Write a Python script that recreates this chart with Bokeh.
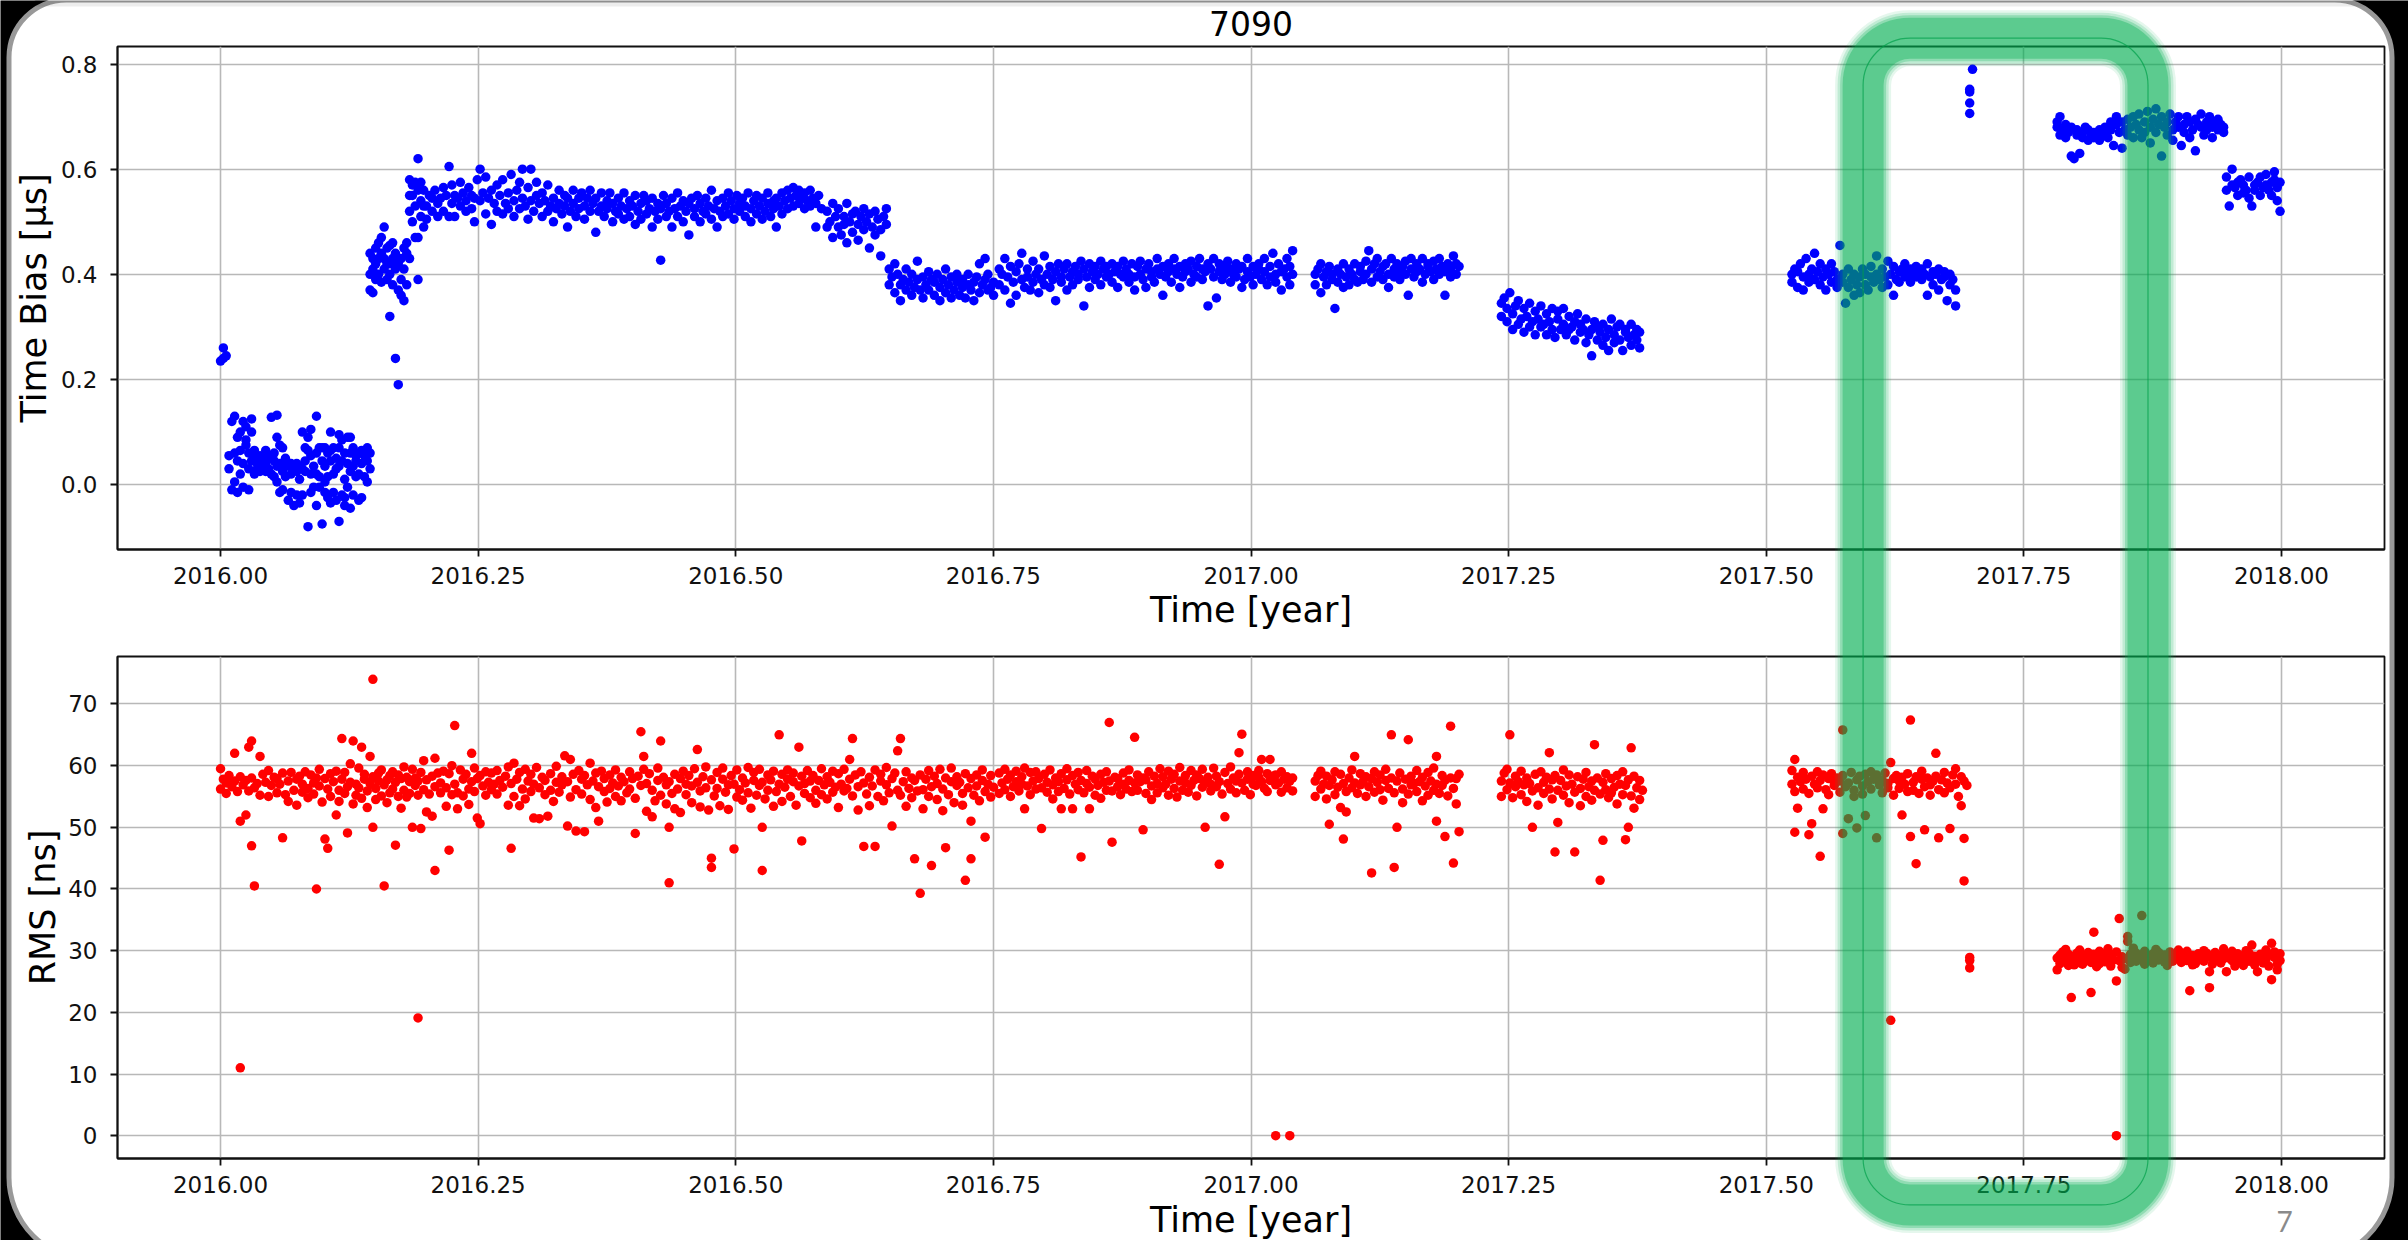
from bokeh.plotting import figure
from bokeh.layouts import column
from bokeh.models import BoxAnnotation, Label, Range1d, FixedTicker, PrintfTickFormatter
from bokeh.embed import file_html
from bokeh.resources import INLINE

# ---------------- texts / ticks ----------------
TITLE = "7090"
X_LABEL = "Time [year]"
BIAS_LABEL = "Time Bias [μs]"
RMS_LABEL = "RMS [ns]"
PAGE_NO = "7"
X_TICKS = [2016.0, 2016.25, 2016.5, 2016.75, 2017.0, 2017.25, 2017.5, 2017.75, 2018.0]
BIAS_TICKS = [0.0, 0.2, 0.4, 0.6, 0.8]
RMS_TICKS = [0, 10, 20, 30, 40, 50, 60, 70]
YEAR0 = 2016.0

# ---------------- data: (day since 2016.0, value, value, ...) ----------------
bias_start = [(0,.235),(1,.26,.24),(2,.245)]
bias_low = [(3,.055,.03),(4,-.01,.12),(5,.13,.005,.06),(6,.045,-.015,.09),(7,.1,.065,.02),(8,.12,.04,-.005),(9,.075,.085,.11),(10,.06,.03,-.01),(11,.1,.045,.125),(12,.05,.065,.02),(13,.04,.03),(14,.055,.045,.025),(15,.05,.035),(16,.065,.04,.025),(17,.05,.03),(18,.128,.055,.02),(19,.045,.06,.015),(20,.132,.035,.005,.09),(21,.075,.04,-.015),(22,.07,.025,-.01),(23,.04,.05,.015),(24,-.03,.035),(25,.02,-.015,.04),(26,.03,-.04),(27,.025,.04,-.02),(28,.035,.01,-.035),(29,.1,.03,-.02),(30,.025,.045,.07),(31,.09,.065,-.08),(32,.055,-.015,.02,.105),(33,.035,-.005),(34,.13,.06,.02,-.04),(35,.07,.015,-.005),(36,.045,.07,-.075),(37,.035,.07,-.015,.005),(38,.06,.015,-.025),(39,.065,-.035,.045,.1),(40,.02,-.015,.07),(41,.03,.05,-.03),(42,.07,-.07,.095,.035),(43,.085,.045,-.02),(44,.06,-.025,.01,-.04),(45,.09,.04,-.005),(46,.06,.025,-.045,.09),(47,.035,-.02,.07),(48,.045,.015,.055),(49,.02,-.03,.06),(50,.065,.04,-.025),(51,.015,.055),(52,.07,.045,.005),(53,.06,.03)]
bias_rise = [(53,.44,.37,.40),(54,.43,.365,.41),(55,.45,.39,.42),(56,.43,.46,.40),(57,.385,.44,.47),(58,.41,.49,.43),(59,.39,.45,.42),(60,.32,.42,.40,.455),(61,.46,.38,.43),(62,.24,.41,.44),(63,.19,.37,.42),(64,.43,.39,.36),(65,.35,.41,.45),(66,.38,.44,.46),(67,.55,.58,.52,.43),(68,.57,.55,.5),(69,.47,.53,.575),(70,.62,.56,.47,.39),(71,.54,.51,.575),(72,.49,.56,.53)]
bias_plateau = [(73,.53,.505),(74,.55),(75,.52,.545),(76,.56),(77,.535,.51),(78,.545),(79,.52,.565),(80,.55),(81,.605,.51),(82,.57,.535),(83,.51,.55),(84,.545),(85,.53,.575),(86,.555),(87,.54,.52),(88,.565),(89,.525,.55),(90,.5,.545),(91,.58),(92,.6,.54),(93,.555),(94,.515,.585),(95,.545),(96,.495,.56),(97,.535),(98,.57,.52),(99,.55),(100,.58,.515),(101,.535),(102,.555,.525),(103,.59),(104,.54,.51),(105,.56),(106,.525,.575),(107,.6,.545),(108,.53),(109,.565,.505),(110,.6,.54),(111,.52),(112,.55,.575),(113,.535),(114,.51,.555),(115,.54),(116,.57,.52),(117,.53),(118,.545,.5),(119,.525),(120,.56,.535),(121,.515),(122,.55,.53),(123,.49,.545),(124,.52),(125,.56,.535),(126,.51),(127,.545,.525),(128,.555),(129,.53,.505),(130,.545),(131,.52,.56),(132,.535),(133,.48,.545),(134,.52),(135,.555,.53),(136,.51),(137,.54,.525),(138,.555),(139,.5,.535),(140,.52),(141,.545,.515),(142,.53),(143,.555,.505),(144,.525),(145,.54,.51),(146,.53),(147,.495,.55),(148,.52),(149,.535,.505),(150,.55),(151,.515,.54),(152,.525),(153,.49,.545),(154,.52),(155,.535,.505),(156,.427,.525),(157,.55),(158,.51,.535),(159,.52),(160,.545,.49),(161,.525),(162,.555,.51),(163,.53),(164,.5,.54),(165,.52),(166,.535,.475),(167,.545),(168,.51,.525),(169,.55),(170,.5,.535),(171,.52),(172,.545,.515),(173,.53),(174,.56,.505),(175,.525),(176,.49,.54),(177,.52),(178,.545,.51),(179,.53),(180,.555,.515),(181,.54),(182,.505,.525),(183,.55),(184,.52,.535),(185,.545),(186,.51,.53),(187,.555),(188,.525,.5),(189,.54),(190,.515,.55),(191,.53),(192,.545,.505),(193,.52),(194,.535,.555),(195,.51),(196,.54,.525),(197,.49,.545),(198,.53),(199,.555,.515),(200,.54),(201,.56,.525),(202,.545),(203,.565,.53),(204,.55),(205,.535,.56),(206,.545),(207,.555,.525),(208,.54),(209,.56,.53),(210,.545),(211,.49,.535),(212,.55),(213,.525)]
bias_step1 = [(215,.52,.49),(216,.5),(217,.535,.47),(218,.51),(219,.49,.525),(220,.475),(221,.51,.495),(222,.535,.46),(223,.5),(224,.48,.515),(225,.52),(226,.495,.465),(227,.51),(228,.525,.485),(229,.5),(230,.45,.515),(231,.49),(232,.52,.475),(233,.505),(234,.485,.435),(235,.51),(236,.495,.525)]
bias_step2 = [(237,.41,.38),(238,.395),(239,.365,.42),(240,.4),(241,.38,.35),(242,.39),(243,.41,.37),(244,.385),(245,.4,.36),(246,.375),(247,.425,.39),(248,.37),(249,.395,.355),(250,.38),(251,.405,.37),(252,.39),(253,.36,.385),(254,.4),(255,.375,.35),(256,.39),(257,.41,.365),(258,.38),(259,.395,.355),(260,.37),(261,.385,.4),(262,.36),(263,.39,.375),(264,.355),(265,.4,.38),(266,.37),(267,.385,.35),(268,.395),(269,.365,.42),(270,.38),(271,.39,.43),(272,.4,.37),(273,.375),(274,.385,.36)]
bias_autumn = [(276,.38,.41),(277,.4),(278,.43,.37),(279,.395),(280,.415,.345),(281,.385),(282,.405,.36),(283,.42),(284,.39,.44),(285,.375),(286,.41,.395),(287,.37),(288,.425,.385),(289,.4),(290,.365,.41),(291,.39),(292,.435,.38),(293,.4),(294,.375,.415),(295,.39),(296,.35,.405),(297,.42),(298,.385,.395),(299,.41),(300,.37,.42),(301,.395),(302,.405,.38),(303,.415),(304,.39,.4),(305,.425),(306,.34,.41),(307,.395),(308,.42,.375),(309,.405),(310,.39,.415),(311,.4),(312,.425,.38),(313,.41),(314,.395,.415),(315,.4),(316,.42,.385),(317,.405),(318,.375,.415),(319,.4),(320,.425,.395),(321,.41),(322,.385,.4),(323,.42),(324,.395,.37),(325,.415),(326,.4,.425),(327,.39),(328,.41,.375),(329,.42),(330,.395,.405),(331,.385),(332,.43,.41),(333,.4),(334,.36,.415),(335,.395),(336,.42,.405),(337,.385),(338,.41,.43),(339,.4),(340,.415,.375),(341,.395),(342,.42,.405),(343,.41),(344,.385,.425),(345,.4),(346,.415,.395),(347,.43),(348,.39,.41),(349,.405),(350,.42,.34),(351,.41),(352,.395,.43),(353,.355),(354,.405,.42),(355,.39),(356,.415,.4),(357,.425),(358,.385,.41),(359,.4),(360,.42,.395),(361,.41),(362,.375,.415),(363,.39),(364,.405,.43),(365,.395),(366,.415,.38),(367,.4),(368,.41,.42),(369,.39),(370,.43,.405),(371,.38),(372,.415,.395),(373,.44),(374,.4,.385),(375,.42),(376,.405,.37),(377,.41),(378,.43,.395),(379,.38,.415),(380,.445,.4)]
bias_winter = [(388,.4,.38),(389,.41),(390,.365,.42),(391,.395),(392,.405,.38),(393,.415),(394,.39,.4),(395,.335),(396,.41,.385),(397,.4),(398,.375,.42),(399,.395),(400,.41,.38),(401,.4),(402,.42,.39),(403,.385),(404,.405,.415),(405,.39),(406,.425,.4),(407,.445),(408,.41,.385),(409,.42),(410,.395,.43),(411,.405),(412,.39,.415),(413,.42),(414,.4,.375),(415,.43),(416,.41,.395),(417,.42),(418,.39,.405),(419,.415),(420,.425,.4),(421,.36),(422,.41,.43),(423,.395),(424,.42,.405),(425,.41),(426,.385,.43),(427,.4),(428,.415,.42),(429,.405),(430,.425,.39),(431,.41),(432,.4,.43),(433,.415),(434,.36,.405),(435,.42),(436,.41,.395),(437,.435),(438,.4,.42),(439,.415)]
bias_spring = [(454,.32,.345),(455,.355),(456,.31,.335),(457,.365),(458,.295,.325),(459,.34),(460,.305,.35),(461,.315),(462,.335,.29),(463,.32),(464,.345,.3),(465,.31),(466,.33,.285),(467,.315),(468,.34,.3),(469,.305),(470,.325,.285),(471,.31),(472,.335,.295),(473,.28),(474,.315,.33),(475,.295),(476,.305,.335),(477,.285),(478,.32,.295),(479,.3),(480,.31,.275),(481,.325),(482,.29,.305),(483,.295),(484,.315,.27),(485,.285),(486,.295,.245),(487,.31),(488,.275,.3),(489,.29),(490,.305,.265),(491,.28),(492,.295,.255),(493,.315),(494,.285,.27),(495,.3),(496,.275,.305),(497,.255),(498,.29,.295),(499,.28),(500,.305,.265),(501,.285),(502,.295,.275),(503,.26,.29)]
bias_summer = [(557,.4,.385),(558,.41),(559,.375,.405),(560,.42),(561,.395,.37),(562,.43),(563,.4,.385),(564,.41),(565,.44,.39),(566,.405),(567,.38,.42),(568,.395),(569,.41,.37),(570,.4),(571,.385,.42),(572,.405),(573,.39,.375),(574,.455),(575,.4,.385),(576,.345),(577,.375,.41),(578,.39),(579,.36,.4),(580,.38),(581,.395,.365),(582,.41),(583,.38,.4),(584,.37),(585,.395,.415),(586,.385),(587,.435,.4),(588,.39),(589,.41,.375),(590,.395),(591,.425,.38),(592,.4),(593,.36,.415),(594,.39),(595,.405,.385),(596,.41),(597,.395,.42),(598,.4),(599,.41,.385),(600,.4),(601,.415,.395),(602,.405),(603,.39,.41),(604,.4),(605,.36,.42),(606,.395),(607,.405,.38),(608,.4),(609,.41,.37),(610,.39),(611,.395,.405),(612,.35),(613,.38,.4),(614,.39),(615,.34,.37)]
bias_jump = [(620,.752,.747,.726,.706),(621,.79)]
bias_high = [(651,.69,.68),(652,.7,.665),(653,.675),(654,.685,.66),(655,.67),(656,.625,.68),(657,.62),(658,.665,.675),(659,.63),(660,.67,.66),(661,.68),(662,.655,.675),(663,.665),(664,.67,.66),(665,.66),(666,.675,.655),(667,.665),(668,.68,.67),(669,.66),(670,.69,.675),(671,.645),(672,.685,.7),(673,.67),(674,.64,.69),(675,.675),(676,.695,.665),(677,.68),(678,.7,.66),(679,.685),(680,.675,.705),(681,.66),(682,.69,.67),(683,.71),(684,.68,.65),(685,.695),(686,.715,.67),(687,.685),(688,.625,.7),(689,.68),(690,.69,.665),(691,.705),(692,.675,.655),(693,.69),(694,.7,.68),(695,.645),(696,.685,.67),(697,.7),(698,.66,.69),(699,.675),(700,.635,.695),(701,.685),(702,.68,.705),(703,.665),(704,.69,.675),(705,.7),(706,.68,.66),(707,.69),(708,.675,.695),(709,.685),(710,.67,.68)]
bias_end = [(711,.585,.56),(712,.53),(713,.6,.57),(714,.565),(715,.575,.55),(716,.58),(717,.555,.57),(718,.56),(719,.585,.545),(720,.53),(721,.57,.56),(722,.575),(723,.55,.585),(724,.565),(725,.59,.57),(726,.56),(727,.575,.55),(728,.595,.58),(729,.565,.54),(730,.52,.575)]

rms_2016 = [(0,56.2,59.5),(1,57.8),(2,55.5,57.2),(3,58.4),(4,56.6),(5,62.0,57.5),(6,55.8),(7,11.0,51.0,58.2),(8,56.9),(9,52.0,57.6),(10,63.0,55.9),(11,64.0,47.0,58.0),(12,40.5,56.4),(13,57.1),(14,61.5,55.2),(15,58.6),(16,57.3),(17,59.2,55.0),(18,56.8),(19,58.1),(20,55.6,57.9),(21,57.0),(22,48.3,58.8),(23,55.3),(24,57.5,54.2),(25,58.9),(26,56.0),(27,53.6,57.8),(28,58.3),(29,55.7,57.0),(30,59.0),(31,56.3,54.8),(32,58.5),(33,57.2,55.4),(34,40.0,58.0),(35,56.7,59.4),(36,54.1),(37,48.1,57.9),(38,46.6,56.2),(39,58.7,55.0),(40,57.4),(41,52.0,59.1),(42,56.0,54.2),(43,64.4,57.8),(44,55.5,58.9),(45,49.1,56.6),(46,60.3,57.3),(47,64.0,53.8),(48,57.0,55.2),(49,59.6,56.4),(50,63.0,54.7),(51,57.8,58.6),(52,55.9,53.2),(53,61.5,57.1),(54,74.0,50.0,58.2),(55,56.3,54.5),(56,58.8,57.5),(57,55.1,59.3),(58,40.5,56.9),(59,57.7,54.0),(60,58.4,55.6),(61,56.2,59.0),(62,47.1,57.3),(63,55.0,58.5),(64,57.9,53.1),(65,59.8,56.0),(66,54.9,58.1),(67,57.4,55.5),(68,50.0,59.4),(69,56.8,58.0),(70,19.1,55.2,57.5),(71,49.8,58.9),(72,56.1,60.8),(73,57.7,52.5),(74,55.4),(75,58.3,51.8),(76,43.0,61.2,56.6),(77,58.8),(78,55.6,57.2),(79,59.1),(80,56.4,53.4),(81,46.3,58.7),(82,55.3,60.0),(83,66.5,57.0),(84,55.6,53.0),(85,59.3),(86,57.8,55.1),(87,58.6),(88,56.2,53.7),(89,62.0,57.4),(90,59.6,55.8),(91,51.5,57.9),(92,58.4,50.6),(93,56.7),(94,59.0,55.2),(95,57.3),(96,58.8,56.1),(97,57.0),(98,59.2,55.4),(99,57.6),(100,56.5),(101,58.3),(102,53.6,59.8),(103,46.6,57.1),(104,60.4,55.0),(105,57.8),(106,53.5,58.9),(107,56.2),(108,59.4,54.6),(109,57.5),(110,55.8,58.6),(111,51.5,57.0),(112,59.7),(113,56.4,51.4),(114,58.1),(115,55.3,57.6),(116,51.8),(117,58.7,56.0),(118,54.2),(119,57.3,59.9),(120,55.7),(121,58.2,56.9),(122,61.6),(123,57.4,50.2),(124,54.9,61.0),(125,58.6),(126,56.1,49.4),(127,59.2),(128,55.4,57.8),(129,49.3,58.4),(130,56.9),(131,60.4,54.5),(132,57.5),(133,53.2,58.8),(134,51.0,56.6),(135,59.1),(136,55.8,57.9),(137,54.1),(138,58.5,56.3),(139,57.2),(140,55.0,59.3),(141,56.7),(142,58.1,54.3),(143,57.4),(144,55.6),(145,59.0,56.2),(146,57.9),(147,49.0,54.7),(148,58.3),(149,65.5,56.8),(150,61.5,59.4),(151,57.1,52.6),(152,58.7),(153,51.7,56.0),(154,54.3),(155,57.6,59.6),(156,64.0,55.2),(157,58.1),(158,53.8,56.9),(159,41.0,50.0,57.4),(160,55.5),(161,58.6,53.0),(162,56.2),(163,57.9,52.4),(164,59.1),(165,55.3,57.0),(166,58.4),(167,54.0,56.7),(168,59.5),(169,62.6,57.3),(170,55.9,53.3),(171,58.2),(172,56.4,59.8),(173,52.8),(174,45.0,43.5,57.7),(175,55.1),(176,58.9,56.3),(177,53.5),(178,57.8,59.6),(179,55.7),(180,56.9,52.9),(181,58.4),(182,46.5,57.0),(183,54.9,59.3),(184,56.1),(185,58.0,54.4),(186,57.2),(187,59.7,55.6),(188,53.1),(189,57.6,58.9),(190,55.2),(191,56.8,59.4),(192,43.0,50.0,57.3),(193,54.6),(194,58.5,56.0),(195,57.7),(196,53.4,59.1),(197,55.8),(198,65.0,57.0),(199,58.6,54.2),(200,56.5),(201,59.3,57.8),(202,55.0),(203,57.4,58.8),(204,53.6),(205,63.0,56.7),(206,47.8,58.3),(207,55.5,57.1),(208,59.2),(209,54.8,57.5),(210,58.4),(211,56.0,53.9),(212,57.6),(213,59.5,55.3),(214,56.9),(215,58.2,54.6),(216,57.3),(217,55.7,59.1),(218,56.5),(219,58.7,53.2),(220,57.0),(221,55.9,59.4),(222,56.3),(223,61.0,57.8),(224,64.4,55.1),(225,58.5),(226,56.6,52.8),(227,59.0),(228,46.9,57.2),(229,55.4),(230,58.1,53.5),(231,56.7),(232,46.9,59.3),(233,55.0),(234,57.5,58.6),(235,54.3),(236,56.9,59.7),(237,55.6),(238,50.2,57.9),(239,58.8),(240,62.4,56.0),(241,64.4,55.2),(242,57.4),(243,59.0,53.4),(244,56.3),(245,58.0,54.8),(246,44.9,57.6),(247,55.9),(248,39.3,58.5),(249,56.1,53.0),(250,57.8),(251,55.0,59.2),(252,43.8,56.6),(253,58.3),(254,54.5,57.1),(255,59.4),(256,56.2,52.7),(257,46.7,58.0),(258,55.3),(259,57.4,59.6),(260,54.0),(261,56.8,58.2),(262,57.3),(263,55.5,53.6),(264,41.4,58.7),(265,56.4),(266,44.9,51.0,57.9),(267,55.2),(268,58.5,56.7),(269,54.3),(270,57.6,59.3),(271,48.4,55.8),(272,57.0),(273,58.4,54.9),(274,56.5)]
rms_autumn = [(276,58.8,55.5),(277,57.2),(278,59.4,56.1),(279,57.8),(280,58.5,55.0),(281,56.6),(282,59.1,57.4),(283,55.9),(284,58.2,57.0),(285,53.0,59.6),(286,56.7),(287,58.9,55.3),(288,57.5),(289,56.2,59.0),(290,57.9),(291,49.8,56.4),(292,58.6),(293,55.7,57.3),(294,59.3),(295,56.9,54.6),(296,58.0),(297,57.4,55.8),(298,53.0,58.7),(299,56.3),(300,57.7,59.5),(301,55.4),(302,58.4,53.0),(303,57.0),(304,56.1,58.9),(305,45.2,57.6),(306,55.6),(307,59.2,57.1),(308,53.0,56.5),(309,58.3),(310,55.2,57.8),(311,56.8),(312,58.6,54.7),(313,57.3),(314,56.0,59.0),(315,67.0,57.5),(316,47.6,55.9),(317,58.1),(318,56.6,57.9),(319,55.3),(320,58.8,57.0),(321,56.2),(322,57.6,59.3),(323,55.8),(324,64.6,57.2),(325,58.5,56.0),(326,57.4),(327,49.6,58.0),(328,55.5,57.7),(329,59.0),(330,56.7,54.5),(331,58.3),(332,57.1,55.6),(333,59.5),(334,56.4,58.2),(335,57.0),(336,55.2,59.1),(337,57.8),(338,56.3,58.6),(339,54.9),(340,57.5,59.7),(341,56.0),(342,58.4,57.2),(343,55.7),(344,59.2,56.8),(345,57.6),(346,55.1,58.5),(347,57.9),(348,56.5,59.4),(349,50.0,57.3),(350,58.1),(351,55.9,57.0),(352,59.6),(353,56.6,58.3),(354,44.0,57.4),(355,55.4),(356,51.7,58.9),(357,57.1),(358,59.8,56.2),(359,58.0),(360,57.5,55.6),(361,62.1,58.6),(362,65.1,57.2),(363,56.0),(364,59.0,57.8),(365,55.3),(366,58.4,57.0),(367,56.8),(368,58.1,59.2),(369,61.0,57.4),(370,56.3),(371,58.7,55.8),(372,61.0,57.6),(373,58.3),(374,0.0,56.9,58.5),(375,57.2),(376,59.0,55.7),(377,57.8),(378,56.4,58.2),(379,0.0,57.5),(380,55.9,58.0)]
rms_winter = [(388,57.5,55.0),(389,58.4),(390,56.2,59.1),(391,57.0),(392,54.6,58.3),(393,50.5,56.8),(394,57.7),(395,55.3,59.0),(396,56.5),(397,58.6,53.2),(398,48.1,57.1),(399,52.5,55.8),(400,58.0),(401,56.4,59.3),(402,61.5,57.2),(403,55.5),(404,58.7,56.9),(405,57.4),(406,55.0,58.2),(407,56.6),(408,42.6,57.9),(409,55.7,59.0),(410,57.3),(411,56.1,58.5),(412,54.4),(413,57.6,59.4),(414,56.3),(415,65.0,58.0),(416,43.5,55.6),(417,50.0,57.5),(418,58.8),(419,56.2,54.0),(420,57.8),(421,64.2,55.4),(422,58.3,56.9),(423,57.1),(424,55.8,59.2),(425,57.4),(426,54.3,58.1),(427,56.7),(428,58.9,55.2),(429,57.5),(430,56.0,59.6),(431,61.5,51.0,57.0),(432,55.5),(433,58.4,56.8),(434,48.5,57.6),(435,55.1),(436,66.4,58.0),(437,44.2,56.3),(438,57.9,53.8),(439,49.3,58.6)]
rms_spring = [(454,57.5,55.0),(455,58.8),(456,56.1,59.4),(457,65.0,57.2),(458,54.8),(459,58.3,56.6),(460,57.4),(461,55.3,59.1),(462,56.9),(463,58.0,54.2),(464,57.1),(465,50.0,55.9),(466,58.6),(467,56.4,53.6),(468,59.0),(469,57.3,55.5),(470,58.1),(471,62.1,56.2),(472,57.7,54.6),(473,46.0,58.4),(474,50.8,56.0),(475,57.6),(476,55.2,59.3),(477,56.7),(478,58.5,54.0),(479,57.0),(480,46.0,55.7),(481,58.2),(482,56.3,53.5),(483,57.8),(484,55.0,58.9),(485,56.6),(486,57.5,54.4),(487,63.4,56.0),(488,58.0),(489,41.4,55.4),(490,47.9,57.3),(491,56.1,58.7),(492,54.8),(493,57.9,55.6),(494,56.5),(495,58.4,53.8),(496,57.0),(497,55.3,59.0),(498,48.0,56.8),(499,50.0,57.7),(500,62.9,55.1),(501,53.1,58.3),(502,56.4),(503,57.6,54.5),(504,56.0)]
rms_summer = [(557,59.2,57.0),(558,61.0,49.2,55.8),(559,53.1,58.1),(560,57.4),(561,56.2,58.9),(562,57.8),(563,48.8,55.5),(564,50.6,58.3),(565,57.0),(566,56.4,59.0),(567,45.3,57.6),(568,53.0,58.5),(569,56.1),(570,57.9,55.3),(571,58.7),(572,56.8,57.3),(573,58.0),(574,55.7,57.5),(575,65.8,49.0,58.4),(576,56.6),(577,51.4,57.2),(578,58.9),(579,56.0,55.0),(580,49.9,57.7),(581,58.3),(582,56.7,55.4),(583,51.9,58.6),(584,57.4),(585,59.0,56.2),(586,57.8),(587,48.3,58.5),(588,56.9),(589,57.6,55.6),(590,58.8),(591,56.4,57.1),(592,60.5,18.7),(593,57.9,55.2),(594,58.4),(595,56.3,57.5),(596,52.0,58.1),(597,57.0),(598,55.8,58.7),(599,67.4,48.5),(600,57.3,56.0),(601,44.1,58.2),(602,55.5),(603,57.8,59.1),(604,49.6,56.6),(605,58.0),(606,56.9,55.2),(607,57.5),(608,62.0,58.3),(609,48.3,56.1),(610,57.7),(611,55.6,58.9),(612,57.2),(613,49.8,56.4),(614,58.5),(615,59.5,57.0),(616,55.0),(617,53.5,58.2),(618,41.3,48.2,57.5),(619,56.8)]
rms_jump = [(620,28.9,28.4,27.2)]
rms_low = [(651,26.9,28.8),(652,29.3,27.9),(653,28.2,29.8),(654,28.9,30.2),(655,27.6,29.4),(656,22.4,28.7),(657,29.1,27.7),(658,28.0,29.6),(659,28.6,30.1),(660,29.2,27.8),(661,28.4),(662,29.7,28.9),(663,23.2,28.1),(664,33.0,29.4),(665,28.6,27.4),(666,27.9,29.9),(667,28.8),(668,29.5,28.2),(669,28.9,30.3),(670,27.5,29.3),(671,28.5),(672,25.1,29.8,0.0),(673,35.2,28.4),(674,29.0,27.3),(675,27.0,28.7),(676,32.3,31.5),(677,29.4,28.1),(678,28.8,30.4),(679,29.6,28.3),(680,29.1),(681,35.7,28.6),(682,29.9,27.8),(683,28.4,29.2),(684,28.9),(685,28.0,29.5),(686,29.0,30.2),(687,28.5,29.7),(688,28.7),(689,29.3,28.2),(690,29.0,27.6),(691,28.6,29.8),(692,28.3),(693,29.4,28.8),(694,28.9,30.1),(695,29.6,28.1),(696,29.1),(697,28.4,29.9),(698,23.5,28.7),(699,29.2,27.7),(700,28.6,27.9),(701,29.5),(702,28.8,29.0),(703,28.3,30.0),(704,29.6,28.9),(705,24.0,26.6),(706,29.1,27.8),(707,28.5,29.7),(708,28.9),(709,29.3,28.0),(710,28.7,30.3),(711,26.6,29.4),(712,28.8),(713,29.9,28.4),(714,29.0,27.5),(715,28.2,29.5),(716,28.7),(717,29.2,27.6),(718,28.9,30.0),(719,29.6,28.3),(720,30.9,28.8),(721,29.1,27.7),(722,26.6,28.5),(723,29.4),(724,28.0,29.0),(725,28.6,30.1),(726,29.3,27.5),(727,31.2,25.3),(728,28.9,29.8),(729,27.8,26.9),(730,28.4,29.5)]


def expand(*segments):
    xs, ys = [], []
    for seg in segments:
        for row in seg:
            for v in row[1:]:
                xs.append(YEAR0 + row[0] / 365.25)
                ys.append(v)
    return xs, ys


bias_x, bias_y = expand(bias_start, bias_low, bias_rise, bias_plateau, bias_step1, bias_step2,
                        bias_autumn, bias_winter, bias_spring, bias_summer, bias_jump, bias_high, bias_end)
rms_x, rms_y = expand(rms_2016, rms_autumn, rms_winter, rms_spring, rms_summer, rms_jump, rms_low)

# ---------------- layout (page pixels; page has no margin) ----------------
W, H = 2408, 1240
TOP_H = 640
BOT_H = H - TOP_H
FL, FR = 117, 2384            # frame left / right
T_TOP, T_BOT = 46, 549        # top frame
B_TOP, B_BOT = 656, 1158      # bottom frame
XR = (2015.9, 2018.1)
BIAS_R = (-0.1235, 0.8335)
RMS_R = (-3.7, 77.7)
FONT = "DejaVu Sans"


def make_panel(height, fig_top, ft, fb, yr, yticks, yfmt, ylabel, ylab_standoff, xlabel):
    p = figure(width=W, height=height, x_range=Range1d(*XR), y_range=Range1d(*yr),
               output_backend="svg", toolbar_location=None, title=None,
               min_border_left=FL, min_border_right=W - FR,
               min_border_top=ft - fig_top, min_border_bottom=height - (fb - fig_top))
    p.background_fill_color = "white"
    p.border_fill_color = "white"
    p.outline_line_color = "#111111"
    p.outline_line_width = 1.8
    for ax in (p.xaxis[0], p.yaxis[0]):
        ax.major_label_text_font = FONT
        ax.major_label_text_font_size = "23px"
        ax.major_label_text_color = "#111111"
        ax.axis_label_text_font = FONT
        ax.axis_label_text_font_size = "35px"
        ax.axis_label_text_font_style = "normal"
        ax.axis_label_text_color = "#000000"
        ax.axis_line_color = "#111111"
        ax.axis_line_width = 1.8
        ax.major_tick_line_color = "#111111"
        ax.major_tick_line_width = 1.8
        ax.major_tick_out = 7
        ax.major_tick_in = 0
        ax.minor_tick_line_color = None
    p.xaxis.ticker = FixedTicker(ticks=X_TICKS)
    p.xaxis.formatter = PrintfTickFormatter(format="%.2f")
    p.xaxis.major_label_standoff = 10
    if xlabel:
        p.xaxis.axis_label = xlabel
        p.xaxis.axis_label_standoff = 3
    p.yaxis.ticker = FixedTicker(ticks=yticks)
    p.yaxis.formatter = PrintfTickFormatter(format=yfmt)
    p.yaxis.major_label_standoff = 13
    p.yaxis.axis_label = ylabel
    p.yaxis.axis_label_standoff = ylab_standoff
    p.grid.grid_line_color = "#b8b8b8"
    p.grid.grid_line_width = 1.6
    return p


# ---------------- top: time bias ----------------
p1 = make_panel(TOP_H, 0, T_TOP, T_BOT, BIAS_R, BIAS_TICKS, "%.1f", BIAS_LABEL, 4, X_LABEL)
p1.scatter(bias_x, bias_y, size=9.5, fill_color="#0000ff", line_color=None)

# ---------------- bottom: RMS ----------------
p2 = make_panel(BOT_H, TOP_H, B_TOP, B_BOT, RMS_R, RMS_TICKS, "%d", RMS_LABEL, 2, None)
p2.scatter(rms_x, rms_y, size=9.5, fill_color="#ff0000", line_color=None)

# ---------------- slide overlay (page-pixel coordinates) ----------------
ov = figure(frame_width=W, frame_height=H, x_range=Range1d(0, W), y_range=Range1d(H, 0),
            output_backend="svg", toolbar_location=None, title=None,
            x_axis_location=None, y_axis_location=None, min_border=0,
            margin=(-H, 0, 0, 0))
if "frame_align" in ov.properties():
    ov.frame_align = False
ov.background_fill_color = None
ov.border_fill_color = None
ov.outline_line_color = None
ov.grid.visible = False

# green highlight: soft-edged rounded frame spanning both panels
GL, GR, GT, GB = 1862.6, 2147.5, 37.7, 1204.4
for lw, a in [(56, 0.1), (51, 0.16), (46, 0.25), (41, 0.36)]:
    ov.add_layout(BoxAnnotation(left=GL, right=GR, top=GT, bottom=GB, fill_color=None, fill_alpha=0,
                                line_color="#00B050", line_alpha=a, line_width=lw,
                                border_radius=47, level="overlay"))
ov.add_layout(BoxAnnotation(left=GL, right=GR, top=GT, bottom=GB, fill_color=None, fill_alpha=0,
                            line_color="#00a04a", line_alpha=0.7, line_width=1.2,
                            border_radius=47, level="overlay"))

# slide edge: black rounded border with soft inner edge
SL, SR, ST, SB = 6, 2394, -3, 1262
ov.add_layout(BoxAnnotation(left=SL - 50, right=SR + 50, top=ST - 50, bottom=SB + 50,
                            fill_color=None, fill_alpha=0, line_color="black", line_alpha=1,
                            line_width=100, border_radius=(110, 110, 135, 135), level="overlay"))
ov.add_layout(BoxAnnotation(left=SL, right=SR, top=ST, bottom=SB,
                            fill_color=None, fill_alpha=0, line_color="black", line_alpha=0.4,
                            line_width=10, border_radius=(60, 60, 85, 85), level="overlay"))
ov.add_layout(BoxAnnotation(left=0, right=W, top=0, bottom=6, fill_color="black", fill_alpha=0.07,
                            line_color=None, level="overlay"))

# texts outside the plot frames
ov.add_layout(Label(x=(FL + FR) / 2, y=23, text=TITLE, text_align="center",
                    text_baseline="alphabetic", text_font=FONT, text_font_size="33px",
                    text_color="#000000"))
ov.add_layout(Label(x=(FL + FR) / 2, y=1219, text=X_LABEL, text_align="center",
                    text_baseline="alphabetic", text_font=FONT, text_font_size="35px",
                    text_color="#000000"))
ov.add_layout(Label(x=2284, y=1221, text=PAGE_NO, text_align="center",
                    text_baseline="alphabetic", text_font="Lato", text_font_size="28px",
                    text_color="#8a8a8a"))

layout = column(p1, p2, ov, spacing=0)
open("out.html", "w").write(file_html(layout, INLINE))
